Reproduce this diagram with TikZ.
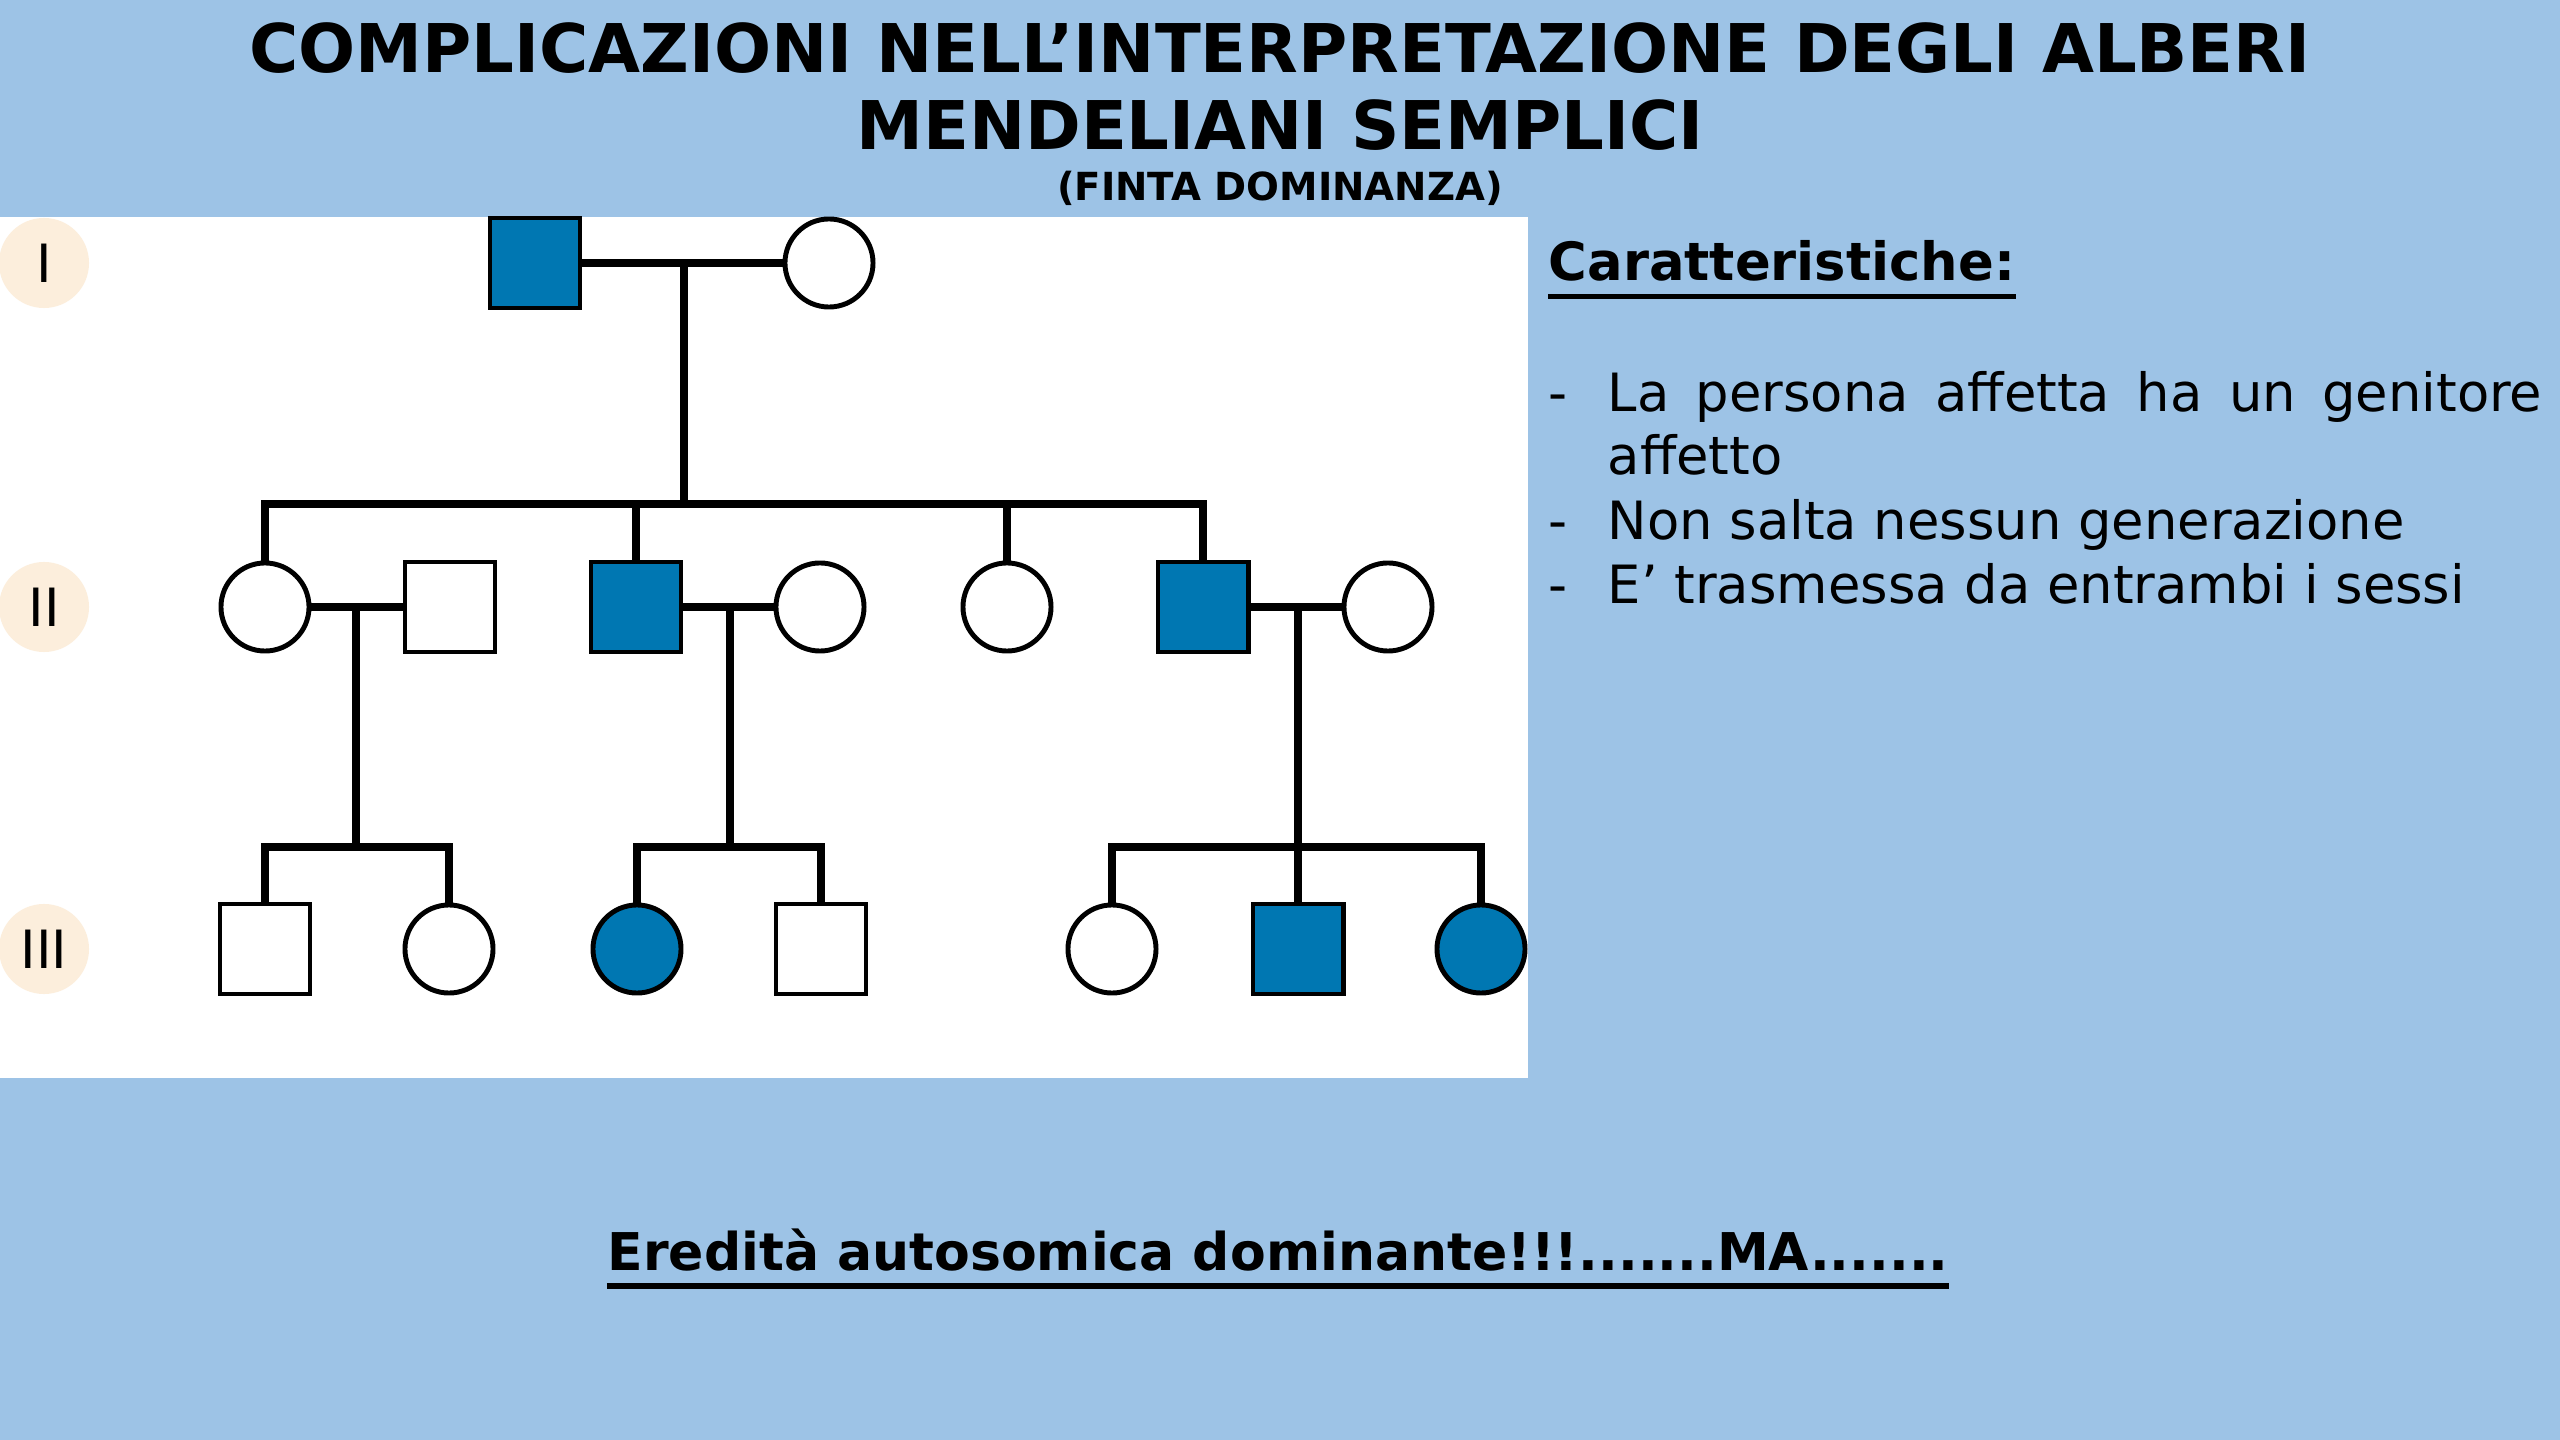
\documentclass[tikz,border=0pt]{standalone}
\usepackage{fontspec}
\setmainfont{DejaVu Sans}
\definecolor{bgblue}{RGB}{157,195,230}
\definecolor{affblue}{RGB}{0,119,178}
\definecolor{beige}{RGB}{252,238,220}
\begin{document}
\begin{tikzpicture}[x=0.01cm,y=-0.01cm,
  male/.style={draw=black,line width=1.4pt,fill=white,minimum size=0.9cm,inner sep=0pt,rectangle},
  female/.style={draw=black,line width=1.4pt,fill=white,minimum size=0.88cm,inner sep=0pt,circle},
  aff/.style={fill=affblue},
  link/.style={line width=2.1pt,black},
  genlab/.style={circle,fill=beige,minimum size=0.9cm,inner sep=0pt,font=\fontsize{15}{15}\selectfont},
  bullet/.style={anchor=base west,inner sep=0pt,font=\fontsize{15}{18}\selectfont}]
\useasboundingbox (0,0) rectangle (2560,1440);
\fill[bgblue] (0,0) rectangle (2560,1440);
\fill[white] (0,217) rectangle (1528,1078);

% titles
\node[anchor=base,inner sep=0pt,font=\bfseries\fontsize{19.1}{20}\selectfont] (t1) at (1280,73) {COMPLICAZIONI NELL’INTERPRETAZIONE DEGLI ALBERI};
\node[anchor=base,inner sep=0pt,font=\bfseries\fontsize{19.1}{20}\selectfont] (t2) at (1280,150) {MENDELIANI SEMPLICI};
\node[anchor=base,inner sep=0pt,font=\bfseries\fontsize{11}{12}\selectfont] (t3) at (1280,201) {(FINTA DOMINANZA)};

% generation labels
\node[genlab] (g1) at (44,263) {I};
\node[genlab] (g2) at (44,607) {II};
\node[genlab] (g3) at (44,949) {III};

% generation I
\node[male,aff] (i1) at (535,263) {};
\node[female] (i2) at (829,263) {};
% generation II
\node[female] (ii1) at (265,607) {};
\node[male] (ii2) at (450,607) {};
\node[male,aff] (ii3) at (636,607) {};
\node[female] (ii4) at (820,607) {};
\node[female] (ii5) at (1007,607) {};
\node[male,aff] (ii6) at (1203,607) {};
\node[female] (ii7) at (1388,607) {};
% generation III
\node[male] (iii1) at (265,949) {};
\node[female] (iii2) at (449,949) {};
\node[female,aff] (iii3) at (637,949) {};
\node[male] (iii4) at (821,949) {};
\node[female] (iii5) at (1112,949) {};
\node[male,aff] (iii6) at (1298,949) {};
\node[female,aff] (iii7) at (1481,949) {};

% helper coordinates
\coordinate (m1) at (684,263);
\coordinate (s1) at (684,504);
\coordinate (m2) at (356,607);
\coordinate (s2) at (356,847);
\coordinate (m3) at (730,607);
\coordinate (s3) at (730,847);
\coordinate (m4) at (1298,607);
\coordinate (s4) at (1298,847);

% gen I mating and sibship
\draw[link] (i1.east) -- (i2.west);
\draw[link] (m1) -- (s1);
\draw[link] (ii1.north) |- (s1) -| (ii6.north);
\draw[link] (ii3.north) -- (ii3.north |- s1);
\draw[link] (ii5.north) -- (ii5.north |- s1);

% gen II matings
\draw[link] (ii1.east) -- (ii2.west);
\draw[link] (m2) -- (s2);
\draw[link] (iii1.north) |- (s2) -| (iii2.north);

\draw[link] (ii3.east) -- (ii4.west);
\draw[link] (m3) -- (s3);
\draw[link] (iii3.north) |- (s3) -| (iii4.north);

\draw[link] (ii6.east) -- (ii7.west);
\draw[link] (m4) -- (iii6.north);
\draw[link] (iii5.north) |- (s4) -| (iii7.north);

% right text
\node[anchor=base west,inner sep=0pt,font=\bfseries\fontsize{15}{18}\selectfont] (car) at (1548,281) {Caratteristiche:};
\draw[line width=1.4pt] ([yshift=-4.5pt]car.base west) -- ([yshift=-4.5pt]car.base east);
\node[bullet] (d1) at (1548,412) {-};
\node[bullet] (b1) at (1607,412) {\makebox[9.34cm][s]{La persona affetta ha un genitore}};
\node[bullet] (b1b) at (1607,475) {affetto};
\node[bullet] (d2) at (1548,540) {-};
\node[bullet] (b2) at (1607,540) {Non salta nessun generazione};
\node[bullet] (d3) at (1548,604) {-};
\node[bullet] (b3) at (1607,604) {E’ trasmessa da entrambi i sessi};

% bottom
\node[anchor=base,inner sep=0pt,font=\bfseries\fontsize{14.8}{18}\selectfont] (ered) at (1278,1270) {Eredità autosomica dominante!!!.......MA.......};
\draw[line width=1.8pt] ([yshift=-4.5pt]ered.base west) -- ([yshift=-4.5pt]ered.base east);
\end{tikzpicture}
\end{document}
